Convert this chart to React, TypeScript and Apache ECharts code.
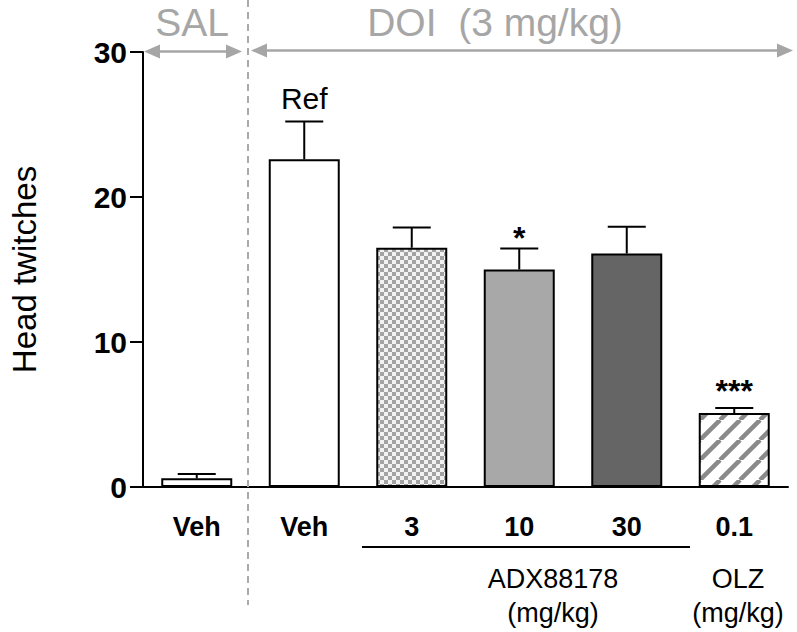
import React, { useEffect, useRef } from 'react';
import * as echarts from 'echarts';

const categories = ['Veh', 'Veh', '3', '10', '30', '0.1'];
const means = [0.6, 22.6, 16.5, 15.0, 16.1, 5.1];
const sems = [0.3, 2.6, 1.4, 1.45, 1.85, 0.35];
const marks = ['', 'Ref', '', '*', '', '***'];
const yTicks = [0, 10, 20, 30];
const groupTexts = ['SAL', 'DOI  (3 mg/kg)'];
const drugTexts = ['ADX88178\n(mg/kg)', 'OLZ\n(mg/kg)'];

const FONT = "'Liberation Sans', Arial, sans-serif";
const GREY = '#a6a6a6';

function checker(): HTMLCanvasElement {
  const c = document.createElement('canvas');
  c.width = 8; c.height = 8;
  const g = c.getContext('2d')!;
  g.fillStyle = '#f2f2f2'; g.fillRect(0, 0, 8, 8);
  g.fillStyle = '#a3a3a3'; g.fillRect(0, 0, 4, 4); g.fillRect(4, 4, 4, 4);
  return c;
}
function hatch(): HTMLCanvasElement {
  const n = 20;
  const c = document.createElement('canvas');
  c.width = n; c.height = n;
  const g = c.getContext('2d')!;
  g.fillStyle = '#ffffff'; g.fillRect(0, 0, n, n);
  g.strokeStyle = '#8a8a8a'; g.lineWidth = 4.5;
  for (const o of [-n, 0, n]) {
    g.beginPath(); g.moveTo(o, n); g.lineTo(o + n, 0); g.stroke();
  }
  return c;
}

export default function App() {
  const ref = useRef<HTMLDivElement>(null);
  useEffect(() => {
    if (!ref.current) return;
    const chart = echarts.init(ref.current, undefined, { renderer: 'svg' });
    const fills: any[] = [
      '#ffffff', '#ffffff',
      { image: checker(), repeat: 'repeat' },
      '#a8a8a8', '#656565',
      { image: hatch(), repeat: 'repeat' },
    ];
    const markOffset = [0, 23, 0, 10, 0, 17];
    const markSize = [30, 30, 30, 32, 30, 32];
    const markWeight = ['normal', 'normal', 'normal', 'bold', 'normal', 'bold'];

    const arrow = (x1: number, x2: number, y: number) => [
      { type: 'line', shape: { x1: x1 + 10, y1: y, x2: x2 - 10, y2: y }, style: { stroke: GREY, lineWidth: 2.5 } },
      { type: 'polygon', shape: { points: [[x1, y], [x1 + 16, y - 7], [x1 + 16, y + 7]] }, style: { fill: GREY } },
      { type: 'polygon', shape: { points: [[x2, y], [x2 - 16, y - 7], [x2 - 16, y + 7]] }, style: { fill: GREY } },
    ];

    chart.setOption({
      animation: false,
      grid: { left: 135, width: 653, top: 52, bottom: 145 },
      xAxis: {
        type: 'category',
        data: categories,
        axisLine: { lineStyle: { color: '#000', width: 2 } },
        axisTick: { alignWithLabel: true, length: 13, lineStyle: { color: '#000', width: 2 } },
        axisLabel: { color: '#000', fontSize: 27, fontWeight: 'bold', fontFamily: FONT, margin: 26 },
      },
      yAxis: {
        type: 'value',
        min: yTicks[0],
        max: yTicks[yTicks.length - 1],
        interval: 10,
        name: 'Head twitches',
        nameLocation: 'middle',
        nameRotate: 90,
        nameGap: 102,
        nameTextStyle: { color: '#000', fontSize: 33, fontFamily: FONT },
        axisLine: { show: true, lineStyle: { color: '#000', width: 2 } },
        axisTick: { show: true, length: 13, lineStyle: { color: '#000', width: 2 } },
        axisLabel: { color: '#000', fontSize: 30, fontWeight: 'bold', fontFamily: FONT, margin: 16 },
        splitLine: { show: false },
      },
      series: [
        {
          type: 'bar',
          barWidth: 71,
          data: means.map((v, i) => ({ value: v, itemStyle: { color: fills[i] } })),
          itemStyle: { borderColor: '#000', borderWidth: 2 },
          z: 2,
        },
        {
          type: 'custom',
          z: 3,
          data: means.map((m, i) => [i, m, sems[i]]),
          encode: { x: 0, y: 1 },
          renderItem: (params: any, api: any) => {
            const i = api.value(0);
            const m = api.value(1);
            const s = api.value(2);
            const b = api.coord([i, m]);
            const t = api.coord([i, m + s]);
            const children: any[] = [
              { type: 'line', shape: { x1: b[0], y1: b[1], x2: t[0], y2: t[1] }, style: { stroke: '#000', lineWidth: 2 } },
              { type: 'line', shape: { x1: t[0] - 19, y1: t[1], x2: t[0] + 19, y2: t[1] }, style: { stroke: '#000', lineWidth: 2 } },
            ];
            const k = params.dataIndex;
            if (marks[k]) {
              children.push({
                type: 'text',
                x: t[0],
                y: t[1] - markOffset[k],
                style: {
                  text: marks[k], fill: '#000', fontSize: markSize[k], fontWeight: markWeight[k],
                  fontFamily: FONT, align: 'center', verticalAlign: 'middle',
                },
              });
            }
            return { type: 'group', children };
          },
        },
      ],
      graphic: [
        { type: 'line', shape: { x1: 248, y1: 0, x2: 248, y2: 605 }, style: { stroke: '#aaaaaa', lineWidth: 2, lineDash: [7, 5] }, z: 10 },
        { type: 'text', x: 192, y: 22, style: { text: groupTexts[0], fill: GREY, fontSize: 39, fontFamily: FONT, align: 'center', verticalAlign: 'middle' } },
        { type: 'text', x: 495, y: 22, style: { text: groupTexts[1], fill: GREY, fontSize: 39, fontFamily: FONT, align: 'center', verticalAlign: 'middle' } },
        ...arrow(144, 242, 51.5),
        ...arrow(251, 793, 50.5),
        { type: 'line', shape: { x1: 362, y1: 547, x2: 690, y2: 547 }, style: { stroke: '#000', lineWidth: 2 } },
        { type: 'text', x: 553, y: 596, style: { text: drugTexts[0], fill: '#000', fontSize: 27, fontFamily: FONT, align: 'center', verticalAlign: 'middle', lineHeight: 34 } },
        { type: 'text', x: 738, y: 596, style: { text: drugTexts[1], fill: '#000', fontSize: 27, fontFamily: FONT, align: 'center', verticalAlign: 'middle', lineHeight: 34 } },
      ],
    });
    return () => chart.dispose();
  }, []);
  return <div ref={ref} style={{ position: 'absolute', left: 0, top: 0, width: 797, height: 632 }} />;
}
